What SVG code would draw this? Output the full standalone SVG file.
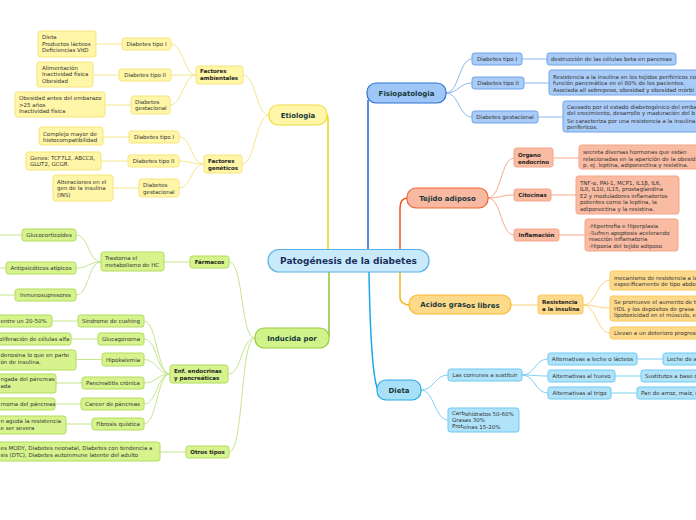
<svg xmlns="http://www.w3.org/2000/svg" width="696" height="520" viewBox="0 0 696 520">
<style>
text{font-family:"DejaVu Sans",Verdana,sans-serif;font-size:5.5px;fill:#333}
.m{font-weight:bold;font-size:7px;fill:#173a3a;text-anchor:middle}
.bd{font-weight:bold;fill:#222}
.mid{text-anchor:middle}
.y{fill:#fff6a8;stroke:#f6e47a;stroke-width:1}
.g{fill:#d6f38e;stroke:#b2dc5c;stroke-width:1}
.b{fill:#a9cbf7;stroke:#6fa2ea;stroke-width:1}
.r{fill:#f9bba2;stroke:#f4a589;stroke-width:1}
.o{fill:#fdd98c;stroke:#f9c95c;stroke-width:1}
.c{fill:#b0e3fa;stroke:#6cc9f0;stroke-width:1}
.cn path{fill:none}
.ly{stroke:#f5e68a;stroke-width:1}
.lg{stroke:#c5e58c;stroke-width:1}
.lb{stroke:#8cb6ee;stroke-width:1}
.lr{stroke:#f7a98a;stroke-width:1}
.lo{stroke:#fbd27a;stroke-width:1}
.lc{stroke:#7fd0f2;stroke-width:1}
</style>
<rect width="696" height="520" fill="#fff"/>
<g id="connectors" class="cn">
<path d="M328,250 V118 C328,116 327,115 325,115" stroke="#e8d41c" stroke-width="1.5"/>
<path d="M329,272 V335 C329,337 328,338 326,338" stroke="#8cc43a" stroke-width="1.5"/>
<path d="M368,250 V100" stroke="#1f66d6" stroke-width="1.5"/>
<path d="M400,250 V208 C400,201 403,198 408,198" stroke="#f0521c" stroke-width="1.5"/>
<path d="M400,272 V297 C400,302 404,305 410,305" stroke="#f6b51a" stroke-width="1.5"/>
<path d="M369,272 C370,330 372,378 378,390" stroke="#1ba6e6" stroke-width="1.5"/>
<g class="ly">
<path d="M269,115 C256,115 256,75 243,75"/>
<path d="M269,115 C256,115 255,164 242,164"/>
<path d="M196,75 C184,75 183,44 171,44"/>
<path d="M196,75 H171"/>
<path d="M196,75 C184,75 182,105 170,105"/>
<path d="M122,44 H96"/><path d="M119,75 H93"/><path d="M131,105 H105"/>
<path d="M204,164 C191,164 192,137 179,137"/>
<path d="M204,164 C192,164 190,161 179,161"/>
<path d="M204,164 C191,164 192,188 179,188"/>
<path d="M129,137 H103"/><path d="M128,161 H101"/><path d="M139,188 H113"/>
</g>
<g class="lg">
<path d="M255,338 C240,338 244,262 229,262"/>
<path d="M255,338 C241,338 242,374 228,374"/>
<path d="M255,338 C240,338 244,452 229,452"/>
<path d="M190,262 H164"/>
<path d="M101,262 C88,262 89,235 76,235"/>
<path d="M101,262 C88,262 89,268 76,268"/>
<path d="M101,262 C88,262 89,295 76,295"/>
<path d="M22,235 H0"/><path d="M6,268 H0"/><path d="M15,295 H0"/>
<path d="M170,374 C157,374 157,321 144,321"/>
<path d="M170,374 C157,374 157,339 144,339"/>
<path d="M170,374 C157,374 157,359.5 144,359.5"/>
<path d="M170,374 C157,374 157,383 144,383"/>
<path d="M170,374 C157,374 157,404 144,404"/>
<path d="M170,374 C157,374 157,424 144,424"/>
<path d="M78,321 H52"/><path d="M98,339 H71"/><path d="M102,359.5 H76"/>
<path d="M82,383 H56"/><path d="M81,404 H55"/><path d="M92,424 H66"/>
<path d="M186,452 H160"/>
</g>
<g class="lb">
<path d="M446,93 C459,93 459,59 472,59"/>
<path d="M446,93 C459,93 459,83 472,83"/>
<path d="M446,93 C459,93 459,117 472,117"/>
<path d="M522,59 H547"/><path d="M524,83 H549"/><path d="M538,117 H563"/>
</g>
<g class="lr">
<path d="M488,198 C501,198 501,158 514,158"/>
<path d="M488,198 C501,198 501,195 514,195"/>
<path d="M488,198 C501,198 501,235 514,235"/>
<path d="M553,158 H579"/><path d="M551,195 H576"/><path d="M559,235 H585"/>
</g>
<g class="lo">
<path d="M511,305 H538"/>
<path d="M583,305 C596,305 597,280 610,280"/>
<path d="M583,305 C596,305 597,308 610,308"/>
<path d="M583,305 C596,305 597,333 610,333"/>
</g>
<g class="lc">
<path d="M421,390 C434,390 435,375 448,375"/>
<path d="M421,390 C434,390 435,420 448,420"/>
<path d="M522,375 C535,375 535,359 548,359"/>
<path d="M522,375 C535,375 535,376 548,376"/>
<path d="M522,375 C535,375 535,393 548,393"/>
<path d="M637,359 H663"/><path d="M615,376 H641"/><path d="M611,393 H637"/>
</g>
</g>

<g id="central"><rect x="268" y="249.5" width="161" height="22.5" rx="11" fill="#c8eafb" stroke="#5ab0e4" stroke-width="1.2"/><text x="348.5" y="264.2" class="m" style="font-size:9px;fill:#1a2f5a">Patogénesis de la diabetes</text></g>

<g id="etiologia"><rect x="269" y="105" width="58" height="20" rx="9" fill="#fff6a8" stroke="#f2dc40" stroke-width="1.2"/><text x="298" y="117.5" class="m">Etiologia</text></g>
<g id="fact-amb"><rect x="196" y="66" width="47" height="18" rx="2.5" class="y"/><text x="200" class="bd"><tspan x="200" y="72.7">Factores</tspan><tspan x="200" y="79.7">ambientales</tspan></text></g>
<g id="amb-dt1"><rect x="122" y="38" width="49" height="12" rx="2.5" class="y"/><text x="146.5" y="46" class="mid">Diabetes tipo I</text></g>
<g id="amb-dt1-leaf"><rect x="38" y="31" width="58" height="26" rx="2.5" class="y"/><text><tspan x="42" y="39">Dieta</tspan><tspan x="42" y="45.7">Productos lácteos</tspan><tspan x="42" y="52.2">Deficiencias VitD</tspan></text></g>
<g id="amb-dt2"><rect x="119" y="69" width="52" height="12" rx="2.5" class="y"/><text x="145" y="77" class="mid">Diabetes tipo II</text></g>
<g id="amb-dt2-leaf"><rect x="37" y="62" width="56" height="25" rx="2.5" class="y"/><text><tspan x="42" y="69.7">Alimentación</tspan><tspan x="42" y="76.3">Inactividad física</tspan><tspan x="42" y="83">Obesidad</tspan></text></g>
<g id="amb-dg"><rect x="131" y="96" width="39" height="18" rx="2.5" class="y"/><text><tspan x="135" y="103.7">Diabetes</tspan><tspan x="135" y="110">gestacional</tspan></text></g>
<g id="amb-dg-leaf"><rect x="15" y="92" width="90" height="25" rx="2.5" class="y"/><text><tspan x="19" y="99.7">Obesidad antes del embarazo</tspan><tspan x="19" y="106.7">&gt;25 años</tspan><tspan x="19" y="113">Inactividad física</tspan></text></g>

<g id="fact-gen"><rect x="204" y="155" width="38" height="18" rx="2.5" class="y"/><text class="bd"><tspan x="208" y="162.7">Factores</tspan><tspan x="208" y="170.2">genéticos</tspan></text></g>
<g id="gen-dt1"><rect x="129" y="131" width="50" height="12" rx="2.5" class="y"/><text x="154" y="139" class="mid">Diabetes tipo I</text></g>
<g id="gen-dt1-leaf"><rect x="39" y="127" width="64" height="18" rx="2.5" class="y"/><text><tspan x="43" y="135.5">Complejo mayor de</tspan><tspan x="43" y="142.2">histocompatibilidad</tspan></text></g>
<g id="gen-dt2"><rect x="128" y="155" width="51" height="12" rx="2.5" class="y"/><text x="153.5" y="163" class="mid">Diabetes tipo II</text></g>
<g id="gen-dt2-leaf"><rect x="26" y="152" width="75" height="18" rx="2.5" class="y"/><text><tspan x="30" y="159.7">Genes: TCF7L2, ABCC8,</tspan><tspan x="30" y="166">GLUT2, GCGR.</tspan></text></g>
<g id="gen-dg"><rect x="139" y="179" width="40" height="18" rx="2.5" class="y"/><text><tspan x="143" y="187.3">Diabetes</tspan><tspan x="143" y="193.7">gestacional</tspan></text></g>
<g id="gen-dg-leaf"><rect x="53" y="175" width="60" height="26" rx="2.5" class="y"/><text><tspan x="57" y="183.5">Alteraciones en el</tspan><tspan x="57" y="190">gen de la insulina</tspan><tspan x="57" y="196.7">(INS)</tspan></text></g>

<g id="inducida"><rect x="255" y="328" width="74" height="20" rx="9" fill="#d2f38a" stroke="#98cc3a" stroke-width="1.2"/><text x="292" y="340.5" class="m">Inducida por</text></g>
<g id="farmacos"><rect x="190" y="256" width="39" height="12" rx="2.5" class="g"/><text x="209.5" y="264" class="mid bd">Fármacos</text></g>
<g id="trastorna"><rect x="101" y="252" width="63" height="19" rx="2.5" class="g"/><text><tspan x="105" y="260.3">Trastorna el</tspan><tspan x="105" y="266.6">metabolismo de HC</tspan></text></g>
<g id="gluco"><rect x="22" y="229" width="54" height="12" rx="2.5" class="g"/><text x="49" y="237" class="mid">Glucocorticoides</text></g>
<g id="antips"><rect x="6" y="262" width="70" height="12" rx="2.5" class="g"/><text x="41" y="270" class="mid">Antipsicóticos atípicos</text></g>
<g id="inmuno"><rect x="15" y="289" width="61" height="12" rx="2.5" class="g"/><text x="45.5" y="297" class="mid">Inmunosupresores</text></g>

<g id="enf"><rect x="170" y="365" width="58" height="18" rx="2.5" class="g"/><text class="bd"><tspan x="174" y="372.8">Enf. endocrinas</tspan><tspan x="174" y="379.8">y pancreáticas</tspan></text></g>
<g id="cushing"><rect x="78" y="315" width="66" height="12" rx="2.5" class="g"/><text x="111" y="323" class="mid">Síndrome de cushing</text></g>
<g id="cushing-leaf"><rect x="-10" y="315" width="62" height="12" rx="2.5" class="g"/><text x="0.5" y="323">entre un 20-50%</text></g>
<g id="glucagonoma"><rect x="98" y="333" width="46" height="12" rx="2.5" class="g"/><text x="121" y="341" class="mid">Glucagonoma</text></g>
<g id="glucagonoma-leaf"><rect x="-10" y="333" width="81" height="12" rx="2.5" class="g"/><text x="-1" y="341">oliferación de células alfa</text></g>
<g id="hipokalemia"><rect x="102" y="353" width="42" height="13" rx="2.5" class="g"/><text x="123" y="361.5" class="mid">Hipokalemia</text></g>
<g id="hipokalemia-leaf"><rect x="-10" y="350" width="86" height="20" rx="2.5" class="g"/><text><tspan x="0.5" y="356.5">denosina lo que en parte</tspan><tspan x="0.5" y="364.3">ón de insulina.</tspan></text></g>
<g id="pancreatitis"><rect x="82" y="377" width="62" height="12" rx="2.5" class="g"/><text x="113" y="385" class="mid">Pancreatitis crónica</text></g>
<g id="pancreatitis-leaf"><rect x="-10" y="374" width="66" height="19" rx="2.5" class="g"/><text><tspan x="0.5" y="381">ngada del páncreas</tspan><tspan x="0.5" y="388">ada</tspan></text></g>
<g id="cancer"><rect x="81" y="398" width="63" height="12" rx="2.5" class="g"/><text x="112.5" y="406" class="mid">Cancer de páncreas</text></g>
<g id="cancer-leaf"><rect x="-10" y="398" width="65" height="12" rx="2.5" class="g"/><text x="0.5" y="406">rnoma del páncreas</text></g>
<g id="fibrosis"><rect x="92" y="418" width="52" height="12" rx="2.5" class="g"/><text x="118" y="426" class="mid">Fibrosis quística</text></g>
<g id="fibrosis-leaf"><rect x="-10" y="416" width="76" height="18" rx="2.5" class="g"/><text><tspan x="0.5" y="423">n aguda la resistencia</tspan><tspan x="0.5" y="429.7">e ser severa</tspan></text></g>
<g id="otros"><rect x="186" y="446" width="43" height="12" rx="2.5" class="g"/><text x="207.5" y="454" class="mid bd">Otros tipos</text></g>
<g id="otros-leaf"><rect x="-10" y="442" width="170" height="19" rx="2.5" class="g"/><text><tspan x="0.5" y="449.7">es MODY, Diabetes neonatal, Diabetes con tendencia a</tspan><tspan x="0.5" y="457">sis (DTC), Diabetes autoinmune latente del adulto</tspan></text></g>

<g id="fisio"><rect x="367" y="83" width="79" height="20" rx="9" fill="#9ec7f7" stroke="#2f72d4" stroke-width="1.2"/><text x="406.5" y="95.5" class="m">Fisiopatologia</text></g>
<g id="fis-dt1"><rect x="472" y="53" width="50" height="12" rx="2.5" class="b"/><text x="497" y="61" class="mid">Diabetes tipo I</text></g>
<g id="fis-dt1-leaf"><rect x="547" y="53" width="129" height="12" rx="2.5" class="b"/><text x="551" y="61">destrucción de las células beta en pancreas</text></g>
<g id="fis-dt2"><rect x="472" y="77" width="52" height="12" rx="2.5" class="b"/><text x="498" y="85" class="mid">Diabetes tipo II</text></g>
<g id="fis-dt2-leaf"><rect x="549" y="70" width="160" height="25" rx="2.5" class="b"/><text><tspan x="553" y="78.7">Resistencia a la insulina en los tejidos periféricos co</tspan><tspan x="553" y="85.3">función pancreática en el 80% de los pacientes.</tspan><tspan x="553" y="92">Asociada all sobrepeso, obesidad y obesidad mórbi</tspan></text></g>
<g id="fis-dg"><rect x="472" y="111" width="66" height="12" rx="2.5" class="b"/><text x="505" y="119" class="mid">Diabetes gestacional</text></g>
<g id="fis-dg-leaf"><rect x="563" y="101" width="150" height="31" rx="2.5" class="b"/><text><tspan x="567" y="108.7">Causado por el estado diabetogénico del emba</tspan><tspan x="567" y="115.3">del crecimiento, desarrollo y maduración del b</tspan><tspan x="567" y="122.7">Se caracteriza por una resistencia a la insulina</tspan><tspan x="567" y="129.3">perifericos.</tspan></text></g>

<g id="tejido"><rect x="407" y="188" width="81" height="20" rx="9" fill="#f8b9a2" stroke="#f06430" stroke-width="1.2"/><text x="447.5" y="200.5" class="m">Tejido adiposo</text></g>
<g id="organo"><rect x="514" y="148" width="39" height="19" rx="2.5" class="r"/><text class="bd"><tspan x="518" y="156.7">Organo</tspan><tspan x="518" y="163.5">endocrino</tspan></text></g>
<g id="organo-leaf"><rect x="579" y="145" width="130" height="24" rx="2.5" class="r"/><text><tspan x="583" y="153.5">secreta diversas hormonas que están</tspan><tspan x="583" y="160.5">relacionadas en la aparición de la obesid</tspan><tspan x="583" y="166.8">p. ej. leptina, adiponectina y resistina.</tspan></text></g>
<g id="citocinas"><rect x="514" y="189" width="37" height="12" rx="2.5" class="r"/><text x="532.5" y="197" class="mid bd">Citocinas</text></g>
<g id="citocinas-leaf"><rect x="576" y="176" width="103" height="38" rx="2.5" class="r"/><text><tspan x="580" y="184.5">TNF-α, PAI-1, MCP1, IL1β, IL6,</tspan><tspan x="580" y="191">IL8, IL10, IL15, prostaglandina</tspan><tspan x="580" y="197.5">E2 y moduladores inflamatorios</tspan><tspan x="580" y="204">potentes como la leptina, la</tspan><tspan x="580" y="210.5">adiponectina y la resistina.</tspan></text></g>
<g id="inflamacion"><rect x="514" y="229" width="45" height="12" rx="2.5" class="r"/><text x="536.5" y="237" class="mid bd">Inflamación</text></g>
<g id="inflamacion-leaf"><rect x="585" y="219" width="93" height="32" rx="2.5" class="r"/><text><tspan x="589" y="228">-Hipertrofia e Hiperplasia</tspan><tspan x="589" y="234.5">-Sufren apoptosis acelerando</tspan><tspan x="589" y="241">reacción inflamatoria</tspan><tspan x="589" y="247.5">-Hipoxia del tejido adiposo</tspan></text></g>

<g id="acidos"><rect x="409" y="295" width="102" height="19" rx="9" fill="#fdd98a" stroke="#f8b72a" stroke-width="1.2"/><text x="460" y="307" class="m">Acidos gras<tspan dy="1">os libres</tspan></text></g>
<g id="resistencia"><rect x="538" y="295" width="45" height="19" rx="2.5" class="o"/><text class="bd"><tspan x="542" y="303.8">Resistencia</tspan><tspan x="542" y="310.5">a la insulina</tspan></text></g>
<g id="res-leaf1"><rect x="610" y="271" width="100" height="19" rx="2.5" class="o"/><text><tspan x="614" y="279.5">mecanismo de resistencia a la i</tspan><tspan x="614" y="286.2">especificamente de tipo abdomi</tspan></text></g>
<g id="res-leaf2"><rect x="610" y="296" width="100" height="25" rx="2.5" class="o"/><text><tspan x="614" y="304.3">Se promueve el aumento de t</tspan><tspan x="614" y="310.6">HDL y los depósitos de grasa e</tspan><tspan x="614" y="317">lipotoxicidad en el músculo, e</tspan></text></g>
<g id="res-leaf3"><rect x="610" y="327" width="100" height="12" rx="2.5" class="o"/><text x="614" y="335">Llevan a un deterioro progresi</text></g>

<g id="dieta"><rect x="377" y="380" width="44" height="20" rx="9" fill="#a8e0f8" stroke="#2aa8e4" stroke-width="1.2"/><text x="399" y="392.5" class="m">Dieta</text></g>
<g id="comunes"><rect x="448" y="369" width="74" height="12" rx="2.5" class="c"/><text x="485" y="377" class="mid">Las comunes a sustituir</text></g>
<g id="alt-leche"><rect x="548" y="353" width="89" height="12" rx="2.5" class="c"/><text x="592.5" y="361" class="mid">Alternativas a leche o lácteos</text></g>
<g id="alt-leche-leaf"><rect x="663" y="353" width="60" height="12" rx="2.5" class="c"/><text x="667" y="361">Leche de a</text></g>
<g id="alt-huevo"><rect x="548" y="370" width="67" height="12" rx="2.5" class="c"/><text x="581.5" y="378" class="mid">Alternativas al huevo</text></g>
<g id="alt-huevo-leaf"><rect x="641" y="370" width="80" height="12" rx="2.5" class="c"/><text x="645" y="378">Sustitutos a base d</text></g>
<g id="alt-trigo"><rect x="548" y="387" width="63" height="12" rx="2.5" class="c"/><text x="579.5" y="395" class="mid">Alternativas al trigo</text></g>
<g id="alt-trigo-leaf"><rect x="637" y="387" width="80" height="12" rx="2.5" class="c"/><text x="641" y="395">Pan de arroz, maíz, e</text></g>
<g id="macros"><rect x="448" y="408" width="71" height="24" rx="2.5" class="c"/><text><tspan x="452" y="414.5">Carb</tspan><tspan dy="1">ohidratos 50-60%</tspan><tspan x="452" y="422">Grasas 30%</tspan><tspan x="452" y="428">Prot</tspan><tspan dy="1">eínas 15-20%</tspan></text></g>
</svg>
